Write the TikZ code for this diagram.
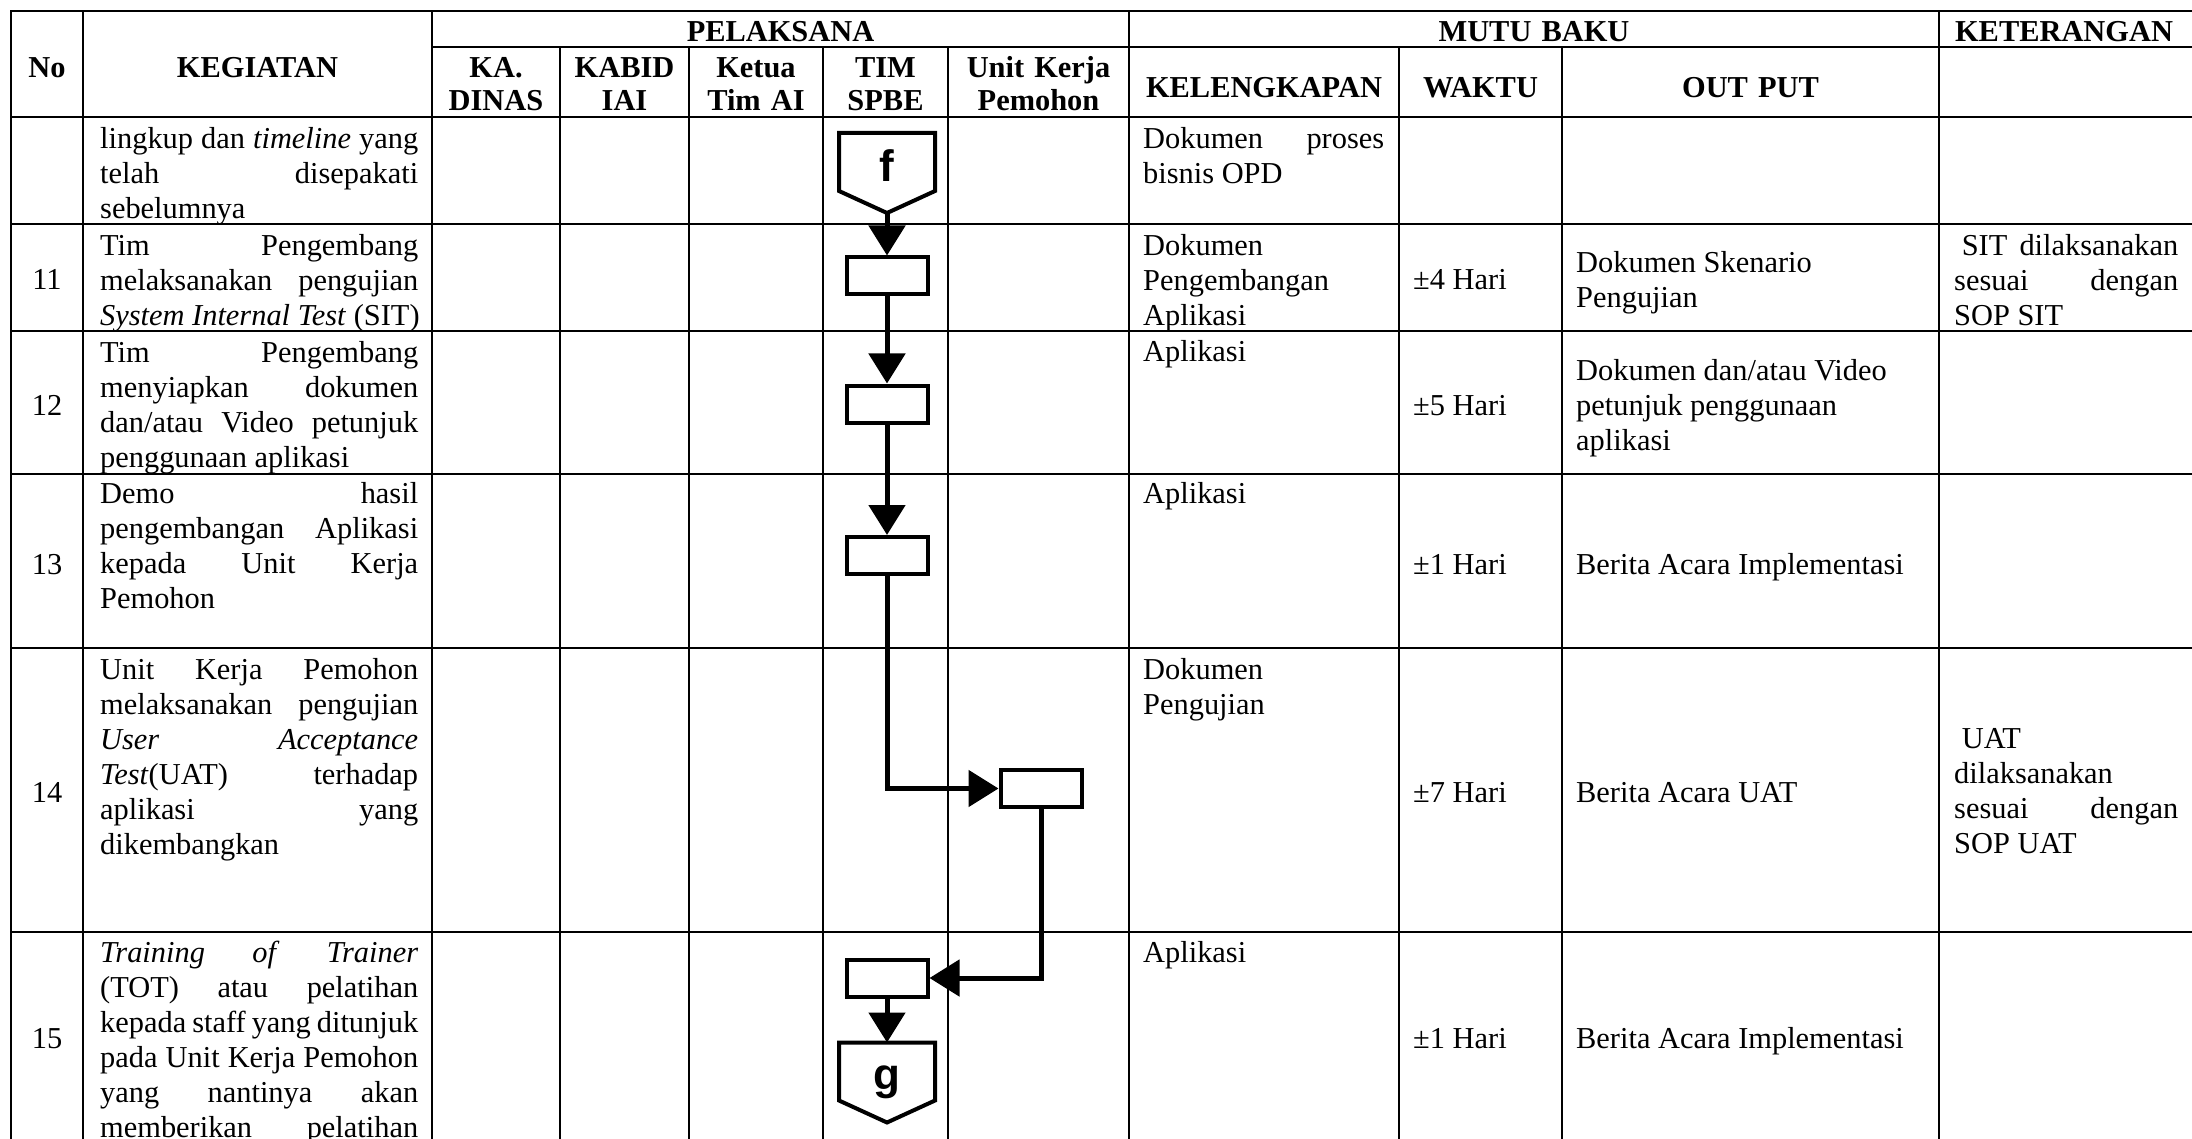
\documentclass[tikz,border=0pt]{standalone}
\usepackage{fontspec}
\setmainfont{Liberation Serif}
\newfontfamily\connfont{Liberation Sans}
\usetikzlibrary{arrows.meta,calc}
\newcommand\bodysz{\fontsize{30.4}{35}\selectfont}
\newcommand\headsz{\fontsize{30.4}{33}\selectfont}
\newcommand\normsp{\spaceskip=0pt\xspaceskip=0pt\relax}
\newcommand\jkeg[1]{{\normsp\makebox[318pt][s]{#1}}}
\newcommand\jlen[1]{{\normsp\makebox[241pt][s]{#1}}}
\newcommand\jket[1]{{\normsp\makebox[224pt][s]{#1}}}
\begin{document}
\begin{tikzpicture}[x=1pt,y=-1pt,
  grid/.style={line width=2pt,line cap=rect},
  flow/.style={line width=5pt,-{Triangle[length=30pt,width=36pt]}},
  procbox/.style={draw,line width=4pt,minimum width=81pt,minimum height=37pt,inner sep=0pt,fill=white},
  offpage/.style={line width=4pt,line join=miter},
  conntext/.style={font=\connfont\bfseries\fontsize{44}{44}\selectfont,inner sep=0pt},
  body/.style={font=\bodysz,inner sep=0pt,anchor=north west},
  oneline/.style={font=\bodysz,inner sep=0pt,anchor=base west},
  num/.style={font=\bodysz,inner sep=0pt,anchor=base},
  hd/.style={font=\headsz\bfseries,inner sep=0pt,anchor=north,align=center,text width=#1},
  hd/.default=200pt,
]
\useasboundingbox (0,0) rectangle (2192,1139);
\clip (0,0) rectangle (2192,1139);
\fill[white] (0,0) rectangle (2192,1139);

% ---------- table grid ----------
\draw[grid] (11,11) -- (2192,11);
\draw[grid] (432,47) -- (2192,47);
\foreach \yy in {117,224,331,474,648,932} \draw[grid] (11,\yy) -- (2192,\yy);
\foreach \xx in {11,83,432,1129,1939} \draw[grid] (\xx,11) -- (\xx,1139);
\foreach \xx in {560,689,823,948,1399,1562} \draw[grid] (\xx,47) -- (\xx,1139);

% ---------- header ----------
\node[hd=70pt] (hno) at (47,53.9) {\strut No};
\node[hd] (hkeg) at (257.5,53.9) {\strut KEGIATAN};
\node[hd=400pt] (hpel) at (780.5,17.9) {\strut PELAKSANA};
\node[hd=400pt] (hmutu) at (1534,17.9) {\strut MUTU BAKU};
\node[hd=240pt] (hket) at (2064,17.9) {\strut KETERANGAN};
\node[hd=125pt] (hka) at (496,53.9) {\strut KA.\\DINAS};
\node[hd=125pt] (hkabid) at (624.5,53.9) {\strut KABID\\IAI};
\node[hd=130pt] (hketua) at (756,53.9) {\strut Ketua\\Tim AI};
\node[hd=120pt] (htim) at (885.5,53.9) {\strut TIM\\SPBE};
\node[hd=180pt] (hunit) at (1038.5,53.9) {\strut Unit Kerja\\Pemohon};
\node[hd=260pt] (hkel) at (1264,73.9) {\strut KELENGKAPAN};
\node[hd=160pt] (hwak) at (1480.5,73.9) {\strut WAKTU};
\node[hd=300pt] (hout) at (1750.5,73.9) {\strut OUT PUT};

% ---------- numbers ----------
\node[num] (n11) at (47,290) {11};
\node[num] (n12) at (47,415) {12};
\node[num] (n13) at (47,574) {13};
\node[num] (n14) at (47,802.5) {14};
\node[num] (n15) at (47,1048) {15};

% ---------- KEGIATAN ----------
\node[body,text width=318pt] (k10) at (100,123.5) {\strut\normsp\jkeg{lingkup dan \textit{timeline} yang}\\\jkeg{telah disepakati}\\\mbox{sebelumnya}};
\node[body,text width=318pt] (k11) at (100,230.5) {\strut\normsp\jkeg{Tim Pengembang}\\\jkeg{melaksanakan pengujian}\\\mbox{\textit{System Internal Test} (SIT)}};
\node[body,text width=318pt] (k12) at (100,337.5) {\strut\normsp\jkeg{Tim Pengembang}\\\jkeg{menyiapkan dokumen}\\\jkeg{dan/atau Video petunjuk}\\\mbox{penggunaan aplikasi}};
\node[body,text width=318pt] (k13) at (100,478.5) {\strut\normsp\jkeg{Demo hasil}\\\jkeg{pengembangan Aplikasi}\\\jkeg{kepada Unit Kerja}\\\mbox{Pemohon}};
\node[body,text width=318pt] (k14) at (100,654.5) {\strut\normsp\jkeg{Unit Kerja Pemohon}\\\jkeg{melaksanakan pengujian}\\\jkeg{\textit{User} \textit{Acceptance}}\\\jkeg{\textit{Test}(UAT) terhadap}\\\jkeg{aplikasi yang}\\\mbox{dikembangkan}};
\node[body,text width=318pt] (k15) at (100,937.5) {\strut\normsp\jkeg{\textit{Training} \textit{of} \textit{Trainer}}\\\jkeg{(TOT) atau pelatihan}\\\jkeg{kepada staff yang ditunjuk}\\\jkeg{pada Unit Kerja Pemohon}\\\jkeg{yang nantinya akan}\\\jkeg{memberikan pelatihan}};

% ---------- KELENGKAPAN ----------
\node[body,text width=241pt] (l10) at (1143,123.5) {\strut\normsp\jlen{Dokumen proses}\\\mbox{bisnis OPD}};
\node[body,text width=241pt] (l11) at (1143,230.5) {\strut Dokumen\\Pengembangan\\Aplikasi};
\node[oneline] (l12) at (1143,362) {Aplikasi};
\node[oneline] (l13) at (1143,503) {Aplikasi};
\node[body,text width=241pt] (l14) at (1143,654.5) {\strut Dokumen\\Pengujian};
\node[oneline] (l15) at (1143,962) {Aplikasi};

% ---------- WAKTU ----------
\node[oneline] (w11) at (1413,290) {±4 Hari};
\node[oneline] (w12) at (1413,415) {±5 Hari};
\node[oneline] (w13) at (1413,574) {±1 Hari};
\node[oneline] (w14) at (1413,802.5) {±7 Hari};
\node[oneline] (w15) at (1413,1048) {±1 Hari};

% ---------- OUT PUT ----------
\node[body,text width=350pt] (o11) at (1576,247.5) {\strut\normsp\mbox{Dokumen Skenario}\\Pengujian};
\node[body,text width=350pt] (o12) at (1576,355.5) {\strut\normsp\mbox{Dokumen dan/atau Video}\\\mbox{petunjuk penggunaan}\\aplikasi};
\node[oneline] (o13) at (1576,574) {Berita Acara Implementasi};
\node[oneline] (o14) at (1576,802.5) {Berita Acara UAT};
\node[oneline] (o15) at (1576,1048) {Berita Acara Implementasi};

% ---------- KETERANGAN ----------
\node[body,text width=224pt] (e11) at (1954,230.5) {\strut\normsp\jket{\kern7.6pt SIT dilaksanakan}\\\jket{sesuai dengan}\\\mbox{SOP SIT}};
\node[body,text width=224pt] (e14) at (1954,723.5) {\strut\normsp\hspace*{7.6pt}UAT\\dilaksanakan\\\jket{sesuai dengan}\\\mbox{SOP UAT}};

% ---------- flow chart ----------
\node[conntext] (f) at (887,166) {f};
\draw[offpage] ($(f.center)+(-48,-33)$) -- ($(f.center)+(48,-33)$) -- ($(f.center)+(48,25)$) -- ($(f.center)+(0,47)$) -- ($(f.center)+(-48,25)$) -- cycle;
\coordinate (ftip) at ($(f.center)+(0,47)$);

\node[procbox] (b11) at (887,276) {};
\node[procbox] (b12) at (887,404) {};
\node[procbox] (b13) at (887,555.5) {};
\node[procbox] (b14) at (1041,788.5) {};
\node[procbox] (b15) at (887,978) {};

\node[conntext] (g) at (887,1082.5) {g};
\draw[offpage] ($(g.center)+(-48,-40)$) -- ($(g.center)+(48,-40)$) -- ($(g.center)+(48,18)$) -- ($(g.center)+(0,40)$) -- ($(g.center)+(-48,18)$) -- cycle;
\coordinate (gtop) at ($(g.center)+(0,-40)$);

\draw[flow] (ftip) -- (b11);
\draw[flow] (b11) -- (b12);
\draw[flow] (b12) -- (b13);
\draw[flow] (b13) |- (b14);
\draw[flow] (b14) |- (b15);
\draw[flow] (b15) -- (gtop);
\end{tikzpicture}
\end{document}
